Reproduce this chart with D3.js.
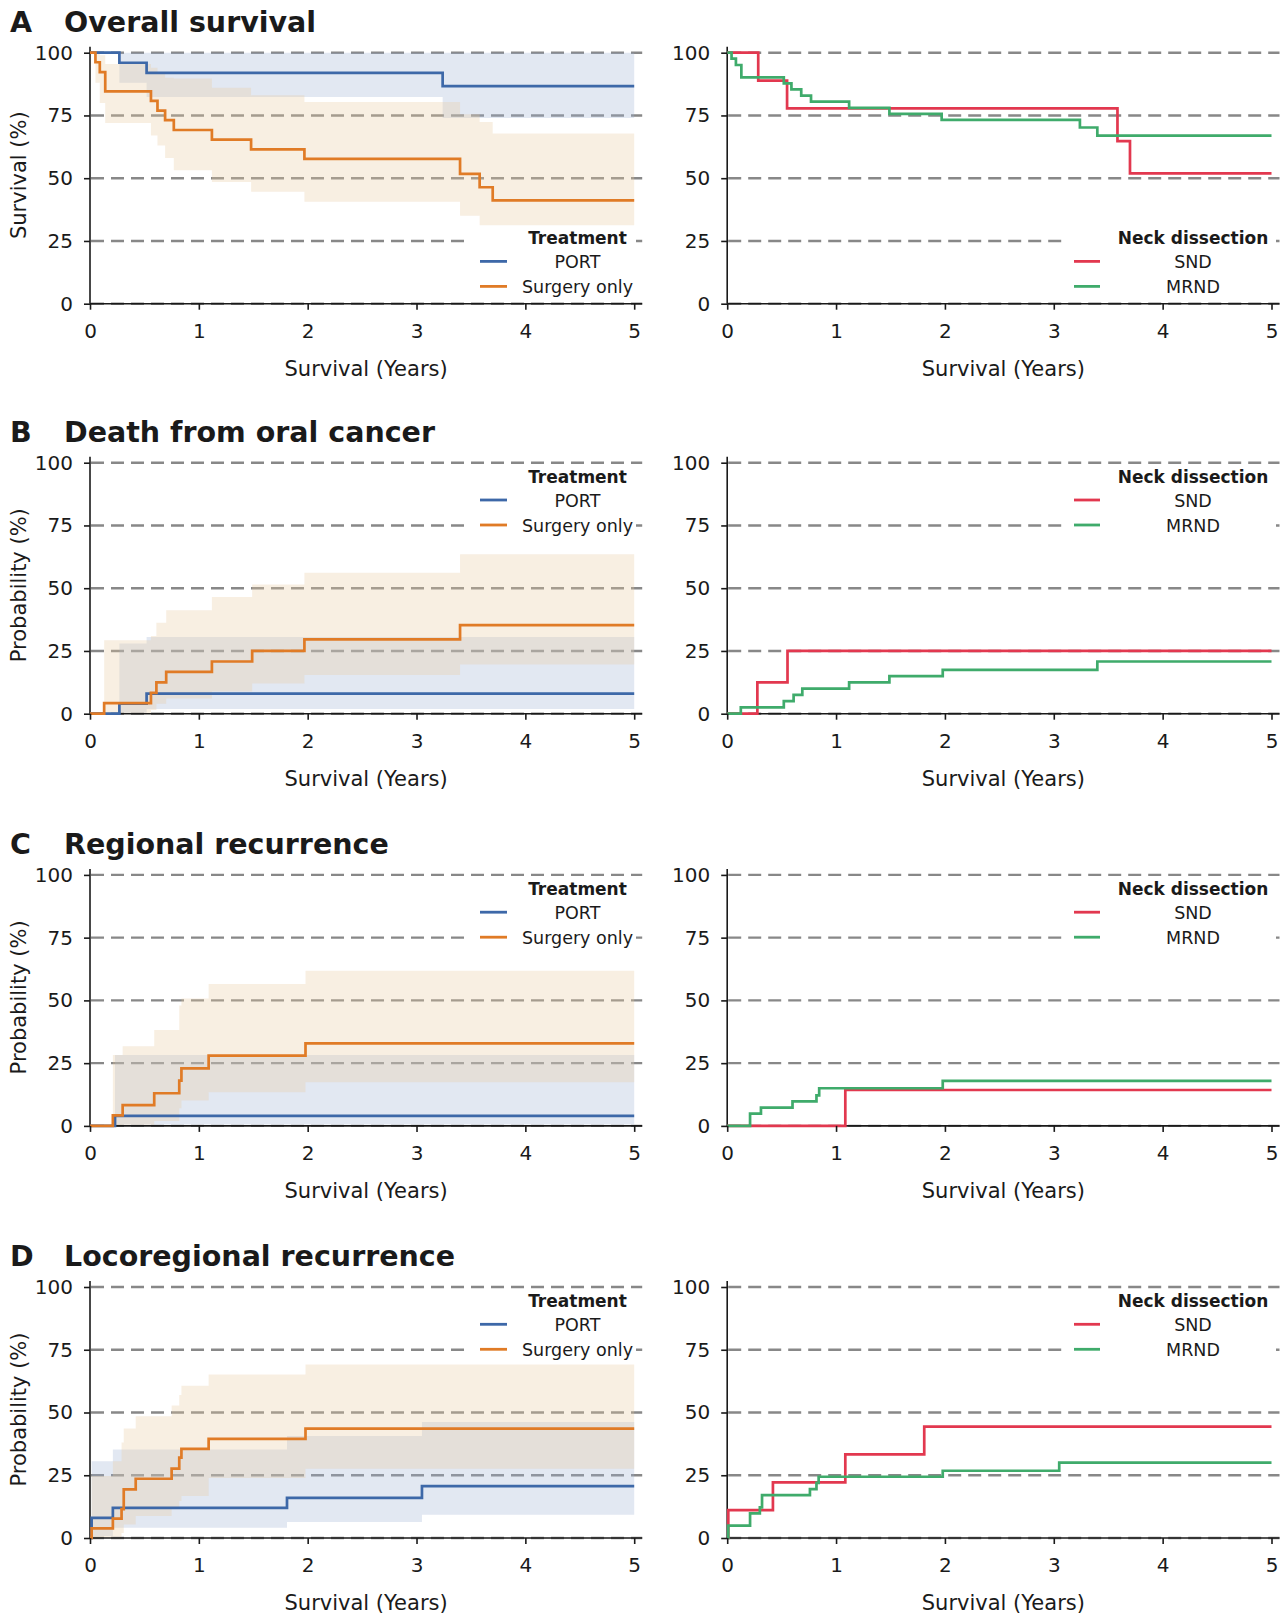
<!DOCTYPE html>
<html>
<head>
<meta charset="utf-8">
<script src="https://cdn.jsdelivr.net/npm/d3@7"></script>
<style>
  body { margin: 0; background: #fff; }
  svg { display: block; }
  text { font-family: "DejaVu Sans", sans-serif; fill: #1a1a1a; }
</style>
</head>
<body>
<svg id="chart" width="1287" height="1619"></svg>
<script>
// tick labels
const years = [0, 1, 2, 3, 4, 5];
const pctTicks = [0, 25, 50, 75, 100];

const panelLetters = ["A", "B", "C", "D"];
const panelTitles = ["Overall survival", "Death from oral cancer", "Regional recurrence", "Locoregional recurrence"];
const yLabels = ["Survival (%)", "Probability (%)", "Probability (%)", "Probability (%)"];

const treatGroups = ["PORT", "Surgery only"];
const neckGroups = ["SND", "MRND"];

// [time, value]  (values in %)
// A - overall survival
const osPort = [[0, 100], [0.27, 96], [0.52, 92], [3.24, 86.7]];
const osSurgery = [[0, 100], [0.05, 96.2], [0.09, 92.3], [0.14, 84.6], [0.56, 80.8], [0.62, 76.9], [0.69, 73.1], [0.77, 69.2], [1.12, 65.4], [1.48, 61.5], [1.97, 57.7], [3.40, 51.7], [3.58, 46.4], [3.70, 41.2]];
const osSnd = [[0, 100], [0.285, 88.9], [0.55, 77.8], [3.585, 64.8], [3.70, 51.9]];
const osMrnd = [[0, 100], [0.04, 97.6], [0.08, 95.1], [0.13, 90.2], [0.52, 87.8], [0.59, 85.4], [0.68, 82.9], [0.77, 80.5], [1.12, 78.0], [1.49, 75.6], [1.97, 73.2], [3.24, 70.2], [3.40, 67.0]];
// [time, lower, upper]
const osPortCi = [[0, 100, 100], [0.27, 88, 100], [0.52, 82.4, 100], [3.24, 74, 100]];
const osSurgeryCi = [[0, 100, 100], [0.05, 88, 100], [0.09, 80, 99], [0.14, 72, 95.5], [0.56, 67, 94], [0.62, 63, 92], [0.69, 58, 90], [0.77, 53.2, 89.7], [1.12, 48.5, 86], [1.48, 44.6, 83], [1.97, 40.6, 80.4], [3.40, 35, 75.5], [3.58, 31.3, 72.4], [3.70, 31.3, 67.8]];

// B - death from oral cancer
const dcPort = [[0, 0], [0.27, 4.0], [0.52, 8.0]];
const dcSurgery = [[0, 0], [0.13, 4.2], [0.56, 8.3], [0.61, 12.5], [0.70, 16.7], [1.12, 20.8], [1.49, 25.0], [1.97, 29.6], [3.40, 35.3]];
const dcSnd = [[0, 0], [0.277, 12.5], [0.554, 25.0]];
const dcMrnd = [[0, 0], [0.125, 2.5], [0.52, 5.0], [0.61, 7.5], [0.69, 10.0], [1.12, 12.5], [1.49, 15.0], [1.98, 17.5], [3.40, 20.8]];
const dcPortCi = [[0, 0, 0], [0.27, 0, 28], [0.52, 1.9, 30.6]];
const dcSurgeryCi = [[0, 0, 0], [0.13, 0, 29.3], [0.56, 1.5, 31], [0.61, 4, 36.2], [0.70, 6.1, 41.2], [1.12, 8.8, 46.5], [1.49, 12, 51.5], [1.97, 15.4, 56.2], [3.40, 19.6, 63.5]];

// C - regional recurrence
const rrPort = [[0, 0], [0.23, 4.0]];
const rrSurgery = [[0, 0], [0.21, 4.2], [0.30, 8.3], [0.59, 13.0], [0.82, 18.0], [0.84, 22.9], [1.09, 28.0], [1.98, 32.9]];
const rrSnd = [[0, 0], [1.085, 14.3]];
const rrMrnd = [[0, 0], [0.21, 4.9], [0.31, 7.3], [0.60, 9.8], [0.82, 12.2], [0.845, 15.0], [1.98, 17.9]];
const rrPortCi = [[0, 0, 0], [0.23, 0.6, 28.2]];
const rrSurgeryCi = [[0, 0, 0], [0.21, 0, 28.2], [0.30, 0.5, 31.7], [0.59, 2, 38.2], [0.82, 7, 48], [0.84, 10.1, 50.8], [1.09, 13.4, 56.5], [1.98, 17.4, 61.8]];

// D - locoregional recurrence
const lrPort = [[0, 0], [0.015, 8.0], [0.21, 12.0], [1.81, 16.0], [3.05, 20.7]];
const lrSurgery = [[0, 0], [0.015, 3.8], [0.21, 7.7], [0.29, 11.5], [0.31, 19.4], [0.42, 23.6], [0.75, 27.6], [0.82, 32.0], [0.84, 35.5], [1.09, 39.5], [1.98, 43.6]];
const lrSnd = [[0, 0], [0.01, 11.1], [0.42, 22.2], [1.085, 33.3], [1.81, 44.4]];
const lrMrnd = [[0, 0], [0.01, 4.9], [0.21, 9.8], [0.30, 12.2], [0.32, 17.1], [0.76, 19.5], [0.82, 22.0], [0.84, 24.4], [1.98, 26.8], [3.05, 30.0]];
const lrPortCi = [[0, 0, 0], [0.015, 0.8, 30.6], [0.21, 4.1, 35.3], [1.81, 6.4, 40.6], [3.05, 9.3, 46.2]];
const lrSurgeryCi = [[0, 0, 0], [0.015, 0, 24.7], [0.21, 0.5, 30.6], [0.29, 2, 38], [0.31, 5.4, 43.6], [0.42, 8.8, 48.5], [0.75, 12, 52.8], [0.82, 14.7, 57], [0.84, 16.7, 60.7], [1.09, 23.9, 65.1], [1.98, 27.6, 69.1]];

// colours
const lineColors = { PORT: "#3d68a8", "Surgery only": "#e07b26", SND: "#e2384f", MRND: "#3fab6b" };
const bandColors = { PORT: "#9fb2d3", "Surgery only": "#e8c9a0" };

// layout
const PLOT_H = 251;
const panelTops = [52.7, 462.7, 874.9, 1287];
const columns = [
  { x0: 90, x5: 634.2, boxX: 471, boxW: 165, swatch: [480, 507], textX: 577.5, title: "Treatment" },
  { x0: 727.2, x5: 1271.5, boxX: 1067, boxW: 209, swatch: [1074, 1100], textX: 1193, title: "Neck dissection" }
];

const svg = d3.select("#chart");

function toFive(d) {
  const last = d[d.length - 1];
  return d.concat([[5].concat(last.slice(1))]);
}

function drawPlot(p, c, series, groups) {
  const col = columns[c];
  const top = panelTops[p];
  const x = d3.scaleLinear().domain([0, 5]).range([col.x0, col.x5]);
  const y = d3.scaleLinear().domain([0, 100]).range([top + PLOT_H, top]);
  const xEnd = col.x5 + 8, yTop = top - 6;
  const g = svg.append("g");

  // dashed grid
  g.selectAll("line.grid").data(pctTicks).join("line")
    .attr("class", "grid")
    .attr("x1", col.x0 + 1).attr("x2", xEnd)
    .attr("y1", d => y(d)).attr("y2", d => y(d))
    .attr("stroke", "#888")
    .attr("stroke-width", 2.4)
    .attr("stroke-dasharray", "13,7");

  // confidence bands
  const area = d3.area().curve(d3.curveStepAfter)
    .x(d => x(d[0])).y0(d => y(d[1])).y1(d => y(d[2]));
  series.forEach((s, i) => {
    if (!s.ci) return;
    g.append("path").datum(toFive(s.ci))
      .attr("d", area)
      .attr("fill", bandColors[groups[i]])
      .attr("fill-opacity", 0.3);
  });

  // spines
  g.append("line").attr("x1", col.x0).attr("x2", xEnd)
    .attr("y1", y(0)).attr("y2", y(0))
    .attr("stroke", "#1a1a1a").attr("stroke-width", 1.6);
  g.append("line").attr("x1", col.x0).attr("x2", col.x0)
    .attr("y1", y(0)).attr("y2", yTop)
    .attr("stroke", "#1a1a1a").attr("stroke-width", 1.6);

  // step curves
  const line = d3.line().curve(d3.curveStepAfter)
    .x(d => x(d[0])).y(d => y(d[1]));
  series.forEach((s, i) => {
    g.append("path").datum(toFive(s.km))
      .attr("d", line)
      .attr("fill", "none")
      .attr("stroke", lineColors[groups[i]])
      .attr("stroke-width", 2.7);
  });

  // axes
  const xa = g.append("g").attr("transform", `translate(0,${y(0)})`)
    .call(d3.axisBottom(x).tickValues(years).tickSize(6).tickPadding(14).tickFormat(d3.format("d")));
  const ya = g.append("g").attr("transform", `translate(${col.x0},0)`)
    .call(d3.axisLeft(y).tickValues(pctTicks).tickSize(6).tickPadding(11).tickFormat(d3.format("d")));
  [xa, ya].forEach(a => {
    a.select(".domain").remove();
    a.selectAll(".tick line").attr("stroke", "#1a1a1a").attr("stroke-width", 1.6);
    a.selectAll(".tick text").attr("font-size", 20).attr("font-family", "DejaVu Sans").attr("fill", "#1a1a1a");
  });

  g.append("text")
    .attr("x", (col.x0 + xEnd) / 2).attr("y", y(0) + 72)
    .attr("text-anchor", "middle").attr("font-size", 21)
    .text("Survival (Years)");

  if (c === 0) {
    g.append("text")
      .attr("transform", `translate(26,${(yTop + y(0)) / 2}) rotate(-90)`)
      .attr("text-anchor", "middle").attr("font-size", 21)
      .text(yLabels[p]);
  }

  // legend
  const boxTop = p === 0 ? y(30.8) : top + 2.3;
  const lg = g.append("g");
  lg.append("rect").attr("x", col.boxX).attr("y", boxTop)
    .attr("width", col.boxW).attr("height", 73).attr("fill", "#fff");
  lg.append("text").attr("x", col.textX).attr("y", boxTop + 18)
    .attr("text-anchor", "middle").attr("font-size", 17).attr("font-weight", "bold")
    .text(col.title);
  groups.forEach((name, i) => {
    const cy = boxTop + 35 + i * 25;
    lg.append("line").attr("x1", col.swatch[0]).attr("x2", col.swatch[1])
      .attr("y1", cy).attr("y2", cy)
      .attr("stroke", lineColors[name]).attr("stroke-width", 2.8);
    lg.append("text").attr("x", col.textX).attr("y", cy + 6.5)
      .attr("text-anchor", "middle").attr("font-size", 17.5)
      .text(name);
  });
}

const leftSeries = [
  [{ km: osPort, ci: osPortCi }, { km: osSurgery, ci: osSurgeryCi }],
  [{ km: dcPort, ci: dcPortCi }, { km: dcSurgery, ci: dcSurgeryCi }],
  [{ km: rrPort, ci: rrPortCi }, { km: rrSurgery, ci: rrSurgeryCi }],
  [{ km: lrPort, ci: lrPortCi }, { km: lrSurgery, ci: lrSurgeryCi }]
];
const rightSeries = [
  [{ km: osSnd }, { km: osMrnd }],
  [{ km: dcSnd }, { km: dcMrnd }],
  [{ km: rrSnd }, { km: rrMrnd }],
  [{ km: lrSnd }, { km: lrMrnd }]
];

panelTitles.forEach((title, p) => {
  const base = panelTops[p] - 21;
  svg.append("text").attr("x", 10).attr("y", base)
    .attr("font-size", 28.5).attr("font-weight", "bold").text(panelLetters[p]);
  svg.append("text").attr("x", 64).attr("y", base)
    .attr("font-size", 28.5).attr("font-weight", "bold").text(title);
  drawPlot(p, 0, leftSeries[p], treatGroups);
  drawPlot(p, 1, rightSeries[p], neckGroups);
});
</script>
</body>
</html>
